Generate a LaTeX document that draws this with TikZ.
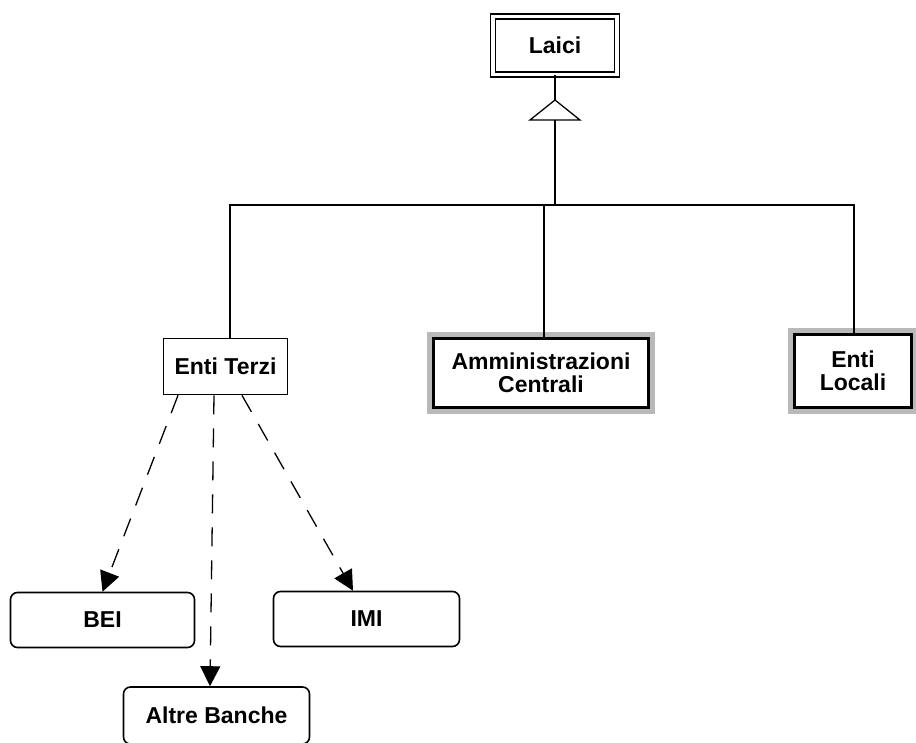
\documentclass[tikz,border=0pt]{standalone}
\usepackage{fontspec}
\setmainfont{Liberation Sans}
\usetikzlibrary{arrows.meta,calc}

\tikzset{
  lbl/.style={font=\fontsize{23}{22.5}\selectfont\bfseries, align=center, inner sep=0pt},
  plainbox/.style={lbl, draw, line width=1.6pt, fill=white},
  doublebox/.style={lbl, draw, line width=1.8pt, double, double distance=3.2pt},
  framedbox/.style={lbl, draw, line width=3pt, fill=white,
    preaction={draw=gray!55, line width=13pt}},
  roundbox/.style={lbl, draw, line width=1.6pt, rounded corners=7pt, fill=white},
  link/.style={line width=1.3pt},
  dashlink/.style={line width=1.3pt, dash pattern=on 19pt off 14pt,
    -{Triangle[length=20pt,width=20pt]}},
}

\begin{document}
\begin{tikzpicture}[x=1pt, y=-1pt]
  \clip (0,0) rectangle (916,742);
  \fill[white] (0,0) rectangle (916,742);

  % superclass
  \node[doublebox, minimum width=124pt, minimum height=58pt] (laici) at (555,45.5) {Laici};

  % subclasses
  \node[plainbox, minimum width=124pt, minimum height=56pt] (terzi) at (225.5,366.5) {Enti Terzi};
  \node[framedbox, minimum width=215pt, minimum height=69pt] (centrali) at (541,373)
    {Amministrazioni\\Centrali};
  \node[framedbox, minimum width=117pt, minimum height=73pt] (locali) at (853,371)
    {Enti\\Locali};

  % instances of Enti Terzi
  \node[roundbox, minimum width=184pt, minimum height=55pt] (bei) at (102.5,620) {BEI};
  \node[roundbox, minimum width=186pt, minimum height=55pt] (imi) at (366.5,619) {IMI};
  \node[roundbox, minimum width=186pt, minimum height=57pt] (altre) at (216.5,715.5) {Altre Banche};

  % generalisation triangle
  \coordinate (apex) at (555,100);
  \coordinate (base) at (555,120);
  \draw[link, fill=white] (apex) -- ++(25,20) -- ++(-50,0) -- cycle;
  \draw[link] (laici.south) -- (apex);

  % distribution bar
  \coordinate (bl) at (230,205);
  \coordinate (bm) at (544,205);
  \coordinate (br) at (854,205);
  \draw[link] (base) -- (base |- bl);
  \draw[link] (bl |- terzi.north) -- (bl) -- (br) -- (br |- locali.north);
  \draw[link] (bm) -- (bm |- centrali.north);

  % dashed instance links
  \draw[dashlink] ([xshift=-47.5pt]terzi.south) -- (bei.north);
  \draw[dashlink] ([xshift=-11.5pt]terzi.south) -- ([xshift=-6.5pt]altre.north);
  \draw[dashlink] ([xshift=16.5pt]terzi.south) -- ([xshift=-13.5pt]imi.north);
\end{tikzpicture}
\end{document}
